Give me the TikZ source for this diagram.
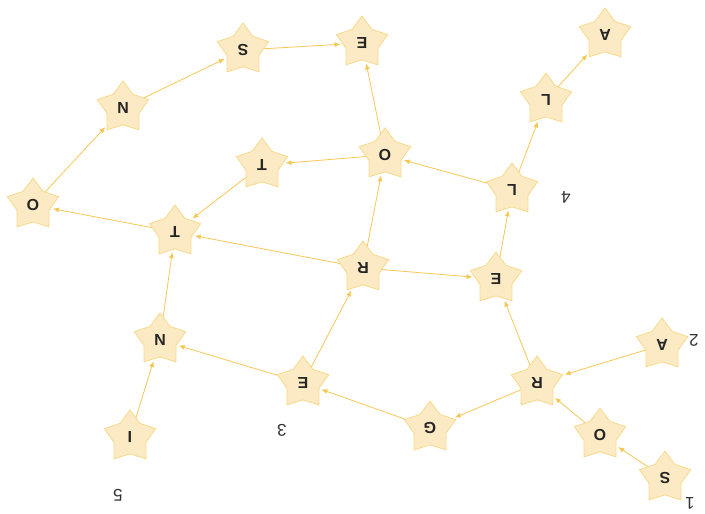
\documentclass[tikz,border=0pt]{standalone}
\usepackage{fontspec}
\setmainfont{Liberation Sans}
\usetikzlibrary{shapes.geometric,arrows.meta}

\definecolor{starfill}{RGB}{252,234,196}
\definecolor{stardraw}{RGB}{247,218,140}
\definecolor{linkcol}{RGB}{245,200,85}

\tikzset{every picture/.style={line width=0.75pt}}
\tikzset{
  letter/.style={star, star points=5, star point ratio=1.6, shape border rotate=180,
    minimum size=54pt, inner sep=0pt, fill=starfill, draw=stardraw, line width=0.8pt,
    rotate=180, font=\bfseries\fontsize{16}{16}\selectfont, text=black!85},
  pathno/.style={rotate=180, font=\fontsize{17}{17}\selectfont, text=black!80},
  link/.style={draw=linkcol, line width=0.8pt, -{Latex[length=6pt,width=5pt]}, shorten >=2pt}
}

\begin{document}
\begin{tikzpicture}[x=1pt,y=1pt,yscale=-1,xscale=1]
\useasboundingbox (0,0) rectangle (705,514);

%Shape: Star nodes
\node [letter] (s1) at (665,478) {S};
\node [letter] (o1) at (600,435) {O};
\node [letter] (a2) at (662,345) {A};
\node [letter] (r1) at (537,383) {R};
\node [letter] (g1) at (430,428) {G};
\node [letter] (e3) at (303,383) {E};
\node [letter] (i5) at (130,437) {I};
\node [letter] (n1) at (160,340) {N};
\node [letter] (e2) at (496,279) {E};
\node [letter] (r2) at (363,268) {R};
\node [letter] (t1) at (175,232) {T};
\node [letter] (o2) at (33,205) {O};
\node [letter] (n2) at (123,108) {N};
\node [letter] (s2) at (243,50) {S};
\node [letter] (e1) at (362,43) {E};
\node [letter] (t2) at (262,165) {T};
\node [letter] (o3) at (385,155) {O};
\node [letter] (l1) at (512,190) {L};
\node [letter] (l2) at (546,100) {L};
\node [letter] (a1) at (605,35) {A};

% Text Node
\node [pathno] (p1) at (690,503) {1};
\node [pathno] (p2) at (694,340) {2};
\node [pathno] (p3) at (282,430) {3};
\node [pathno] (p4) at (566,197) {4};
\node [pathno] (p5) at (118,495) {5};

%Straight Lines
\draw [link] (s1) -- (o1);
\draw [link] (o1) -- (r1);
\draw [link] (a2) -- (r1);
\draw [link] (r1) -- (g1);
\draw [link] (r1) -- (e2);
\draw [link] (g1) -- (e3);
\draw [link] (e3) -- (n1);
\draw [link] (e3) -- (r2);
\draw [link] (i5) -- (n1);
\draw [link] (n1) -- (t1);
\draw [link] (r2) -- (t1);
\draw [link] (r2) -- (e2);
\draw [link] (r2) -- (o3);
\draw [link] (e2) -- (l1);
\draw [link] (l1) -- (o3);
\draw [link] (l1) -- (l2);
\draw [link] (l2) -- (a1);
\draw [link] (o3) -- (e1);
\draw [link] (o3) -- (t2);
\draw [link] (t2) -- (t1);
\draw [link] (t1) -- (o2);
\draw [link] (o2) -- (n2);
\draw [link] (n2) -- (s2);
\draw [link] (s2) -- (e1);

\end{tikzpicture}
\end{document}
